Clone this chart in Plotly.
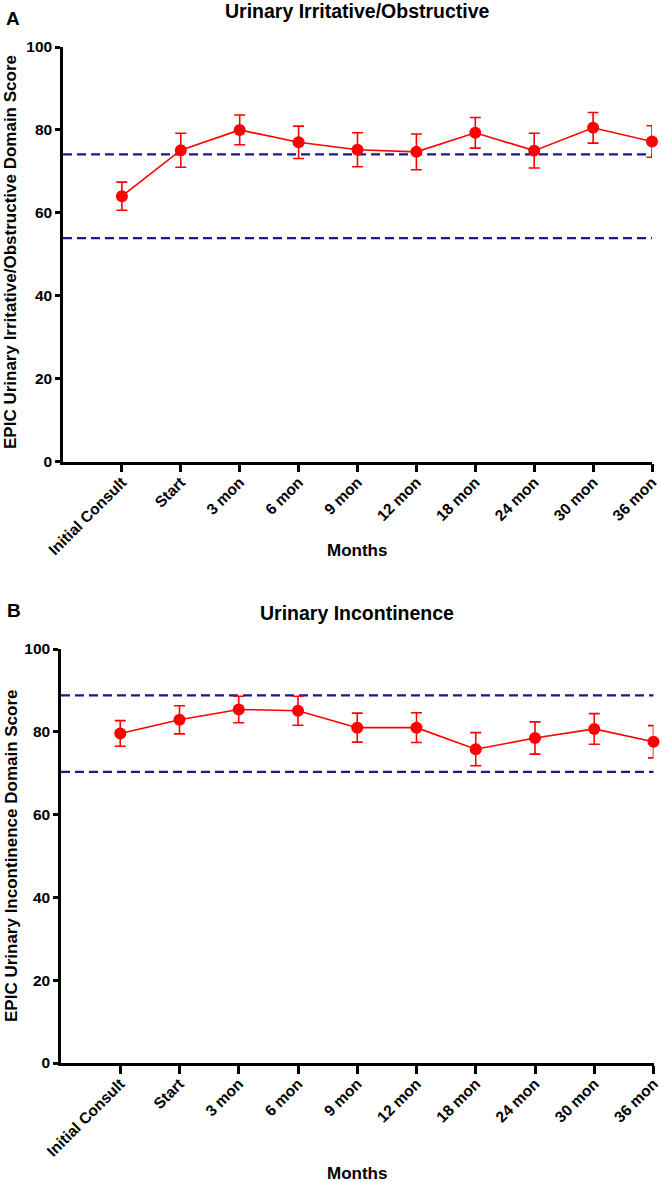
import plotly.graph_objects as go

# ---------------- data ----------------
categories = ["Initial Consult", "Start", "3 mon", "6 mon", "9 mon",
              "12 mon", "18 mon", "24 mon", "30 mon", "36 mon"]

irritative_mean = [64.0, 75.1, 80.0, 77.0, 75.2, 74.7, 79.3, 75.0, 80.5, 77.2]
irritative_err = [3.4, 4.1, 3.6, 3.9, 4.1, 4.3, 3.7, 4.2, 3.7, 3.8]
irritative_ref = [74.1, 53.9]

incontinence_mean = [79.6, 82.9, 85.4, 85.1, 81.0, 81.0, 75.8, 78.5, 80.7, 77.6]
incontinence_err = [3.1, 3.4, 3.2, 3.5, 3.5, 3.6, 4.0, 3.9, 3.7, 3.9]
incontinence_ref = [88.8, 70.3]

y_ticks = [0, 20, 40, 60, 80, 100]

panel_a_title = "Urinary Irritative/Obstructive"
panel_b_title = "Urinary Incontinence"
panel_a_ytitle = "EPIC Urinary Irritative/Obstructive Domain Score"
panel_b_ytitle = "EPIC Urinary Incontinence Domain Score"
x_title = "Months"

# ---------------- layout helpers ----------------
W, H = 661, 1182
FONT = "Liberation Sans, Arial, sans-serif"
RED = "#ff0000"
NAVY = "#1a1a8a"


def px(x):
    return x / W


def py(y):
    return 1 - y / H


fig = go.Figure()


def add_panel(idx, mean, err, refs):
    xa = "x" if idx == 1 else "x2"
    ya = "y" if idx == 1 else "y2"
    fig.add_trace(go.Scatter(
        x=categories, y=mean, xaxis=xa, yaxis=ya,
        mode="lines+markers",
        line=dict(color=RED, width=1.6),
        marker=dict(color=RED, size=12),
        error_y=dict(type="data", array=err, visible=True,
                     color=RED, thickness=1.6, width=5.5),
        cliponaxis=False, showlegend=False,
    ))
    for r in refs:
        fig.add_shape(type="line", xref=f"{xa} domain", yref=ya,
                      x0=0, x1=1, y0=r, y1=r,
                      line=dict(color=NAVY, width=2.2, dash="9px,5px"),
                      layer="below")


add_panel(1, irritative_mean, irritative_err, irritative_ref)
add_panel(2, incontinence_mean, incontinence_err, incontinence_ref)

xaxis_common = dict(
    type="category", range=[-1, len(categories) - 1],
    showline=True, linecolor="black", linewidth=2.5,
    ticks="outside", ticklen=8, tickwidth=2.5, tickcolor="black",
    tickangle=-45, showgrid=False, zeroline=False,
    ticklabelstandoff=-5,
    tickfont=dict(family=FONT, size=15.5, color="black", weight="bold"),
)
yaxis_common = dict(
    range=[0, 100], tickvals=y_ticks,
    showline=True, linecolor="black", linewidth=2.5,
    ticks="outside", ticklen=5, tickwidth=2.5, tickcolor="black",
    showgrid=False, zeroline=False,
    tickfont=dict(family=FONT, size=15.5, color="black", weight="bold"),
)

fig.update_layout(
    width=W, height=H,
    margin=dict(l=0, r=0, t=0, b=0, autoexpand=False),
    paper_bgcolor="white", plot_bgcolor="white",
    xaxis=dict(**xaxis_common, domain=[px(63), px(652)], anchor="y",
               automargin=False),
    yaxis=dict(**yaxis_common, domain=[py(461.5), py(47)], anchor="x",
               automargin=False),
    xaxis2=dict(**xaxis_common, domain=[px(61), px(653.5)], anchor="y2",
                automargin=False),
    yaxis2=dict(**yaxis_common, domain=[py(1063), py(649)], anchor="x2",
                automargin=False),
)


def ann(text, x, y, size, xanchor="center", angle=0):
    fig.add_annotation(
        text=text, x=px(x), y=py(y), xref="paper", yref="paper",
        xanchor=xanchor, yanchor="middle", showarrow=False,
        textangle=angle,
        font=dict(family=FONT, size=size, color="black", weight="bold"),
    )


ann("A", 4, 18, 19, xanchor="left")
ann(panel_a_title, 357.5, 11, 19.5)
ann(x_title, 357.5, 550, 17)
ann(panel_a_ytitle, 11, 252, 17, angle=-90)

ann("B", 5, 610, 19, xanchor="left")
ann(panel_b_title, 357, 613, 19.5)
ann(x_title, 357.5, 1173, 17)
ann(panel_b_ytitle, 11, 856, 17, angle=-90)

fig.write_html(
    "out.html",
    config={"displayModeBar": False},
    post_script="document.body.style.margin='0';"
                "document.body.style.overflow='hidden';",
)
